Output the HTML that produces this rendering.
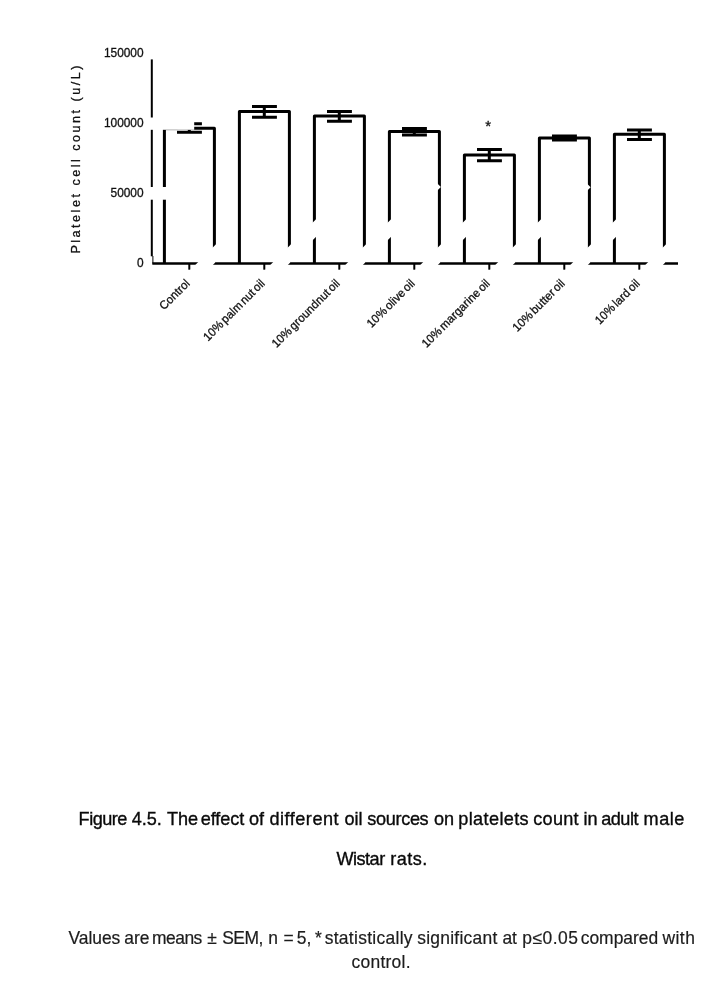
<!DOCTYPE html>
<html lang="en">
<head>
<meta charset="utf-8">
<title>Figure 4.5</title>
<style>
  html, body { margin: 0; padding: 0; background: #fff; }
  body { width: 720px; height: 997px; position: relative; overflow: hidden;
         font-family: "Liberation Sans", sans-serif; color: #111; }
  #chart { position: absolute; left: 0; top: 0; width: 720px; height: 380px; }
  #chart text { font-family: "Liberation Sans", sans-serif; fill: #111; stroke: #111; stroke-width: 0.3px; }
  .cap { position: absolute; left: 0; width: 720px; height: 20px; white-space: pre; line-height: 20px; }
  .cap span { position: absolute; top: 0; }
  .cap1 { font-size: 18.1px; color: #0a0a0a; -webkit-text-stroke: 0.35px #0a0a0a; }
  .cap2 { font-size: 17.45px; color: #1c1c1c; -webkit-text-stroke: 0.2px #1c1c1c; }
</style>
</head>
<body>

<svg id="chart" width="720" height="380" viewBox="0 0 720 380">
  <!-- axes -->
  <line x1="151.8" y1="52" x2="151.8" y2="256.3" stroke="#000" stroke-width="2"/>
  <line x1="152.9" y1="256" x2="152.9" y2="263.6" stroke="#000" stroke-width="1"/>
  <line x1="152.3" y1="263.6" x2="678" y2="263.6" stroke="#000" stroke-width="2.5"/>
  <!-- x ticks -->
  <g stroke="#000" stroke-width="2">
    <line x1="189.3" y1="263.6" x2="189.3" y2="269.7"/>
    <line x1="264.3" y1="263.6" x2="264.3" y2="269.7"/>
    <line x1="339.3" y1="263.6" x2="339.3" y2="269.7"/>
    <line x1="414.3" y1="263.6" x2="414.3" y2="269.7"/>
    <line x1="489.3" y1="263.6" x2="489.3" y2="269.7"/>
    <line x1="564.3" y1="263.6" x2="564.3" y2="269.7"/>
    <line x1="639.3" y1="263.6" x2="639.3" y2="269.7"/>
  </g>
  <!-- bars -->
  <g stroke="#000" stroke-width="3" fill="none" stroke-linejoin="round">
    <path d="M164.4 263.6 V128.3 H214.4 V263.6"/>
    <path d="M239.4 263.6 V111.6 H289.4 V263.6"/>
    <path d="M314.4 263.6 V116.0 H364.4 V263.6"/>
    <path d="M389.4 263.6 V131.6 H439.4 V263.6"/>
    <path d="M464.4 263.6 V154.9 H514.4 V263.6"/>
    <path d="M539.4 263.6 V138.0 H589.4 V263.6"/>
    <path d="M614.4 263.6 V134.3 H664.4 V263.6"/>
  </g>
  <!-- error bars -->
  <g stroke="#000" stroke-width="3" fill="none">
    <path d="M177.0 123.7 H201.9 M177.0 132.2 H201.9 M189.3 123.7 V132.2"/>
    <path d="M252.0 106.4 H276.9 M252.0 117.2 H276.9 M264.3 106.4 V117.2"/>
    <path d="M327.0 111.6 H351.9 M327.0 121.2 H351.9 M339.3 111.6 V121.2"/>
    <path d="M402.0 128.4 H426.9 M402.0 134.9 H426.9 M414.3 128.4 V134.9"/>
    <path d="M477.0 149.5 H501.9 M477.0 160.7 H501.9 M489.3 149.5 V160.7"/>
    <path d="M552.0 136.1 H576.9 M552.0 140.0 H576.9 M564.3 136.1 V140.0"/>
    <path d="M627.0 130.1 H651.9 M627.0 139.4 H651.9 M639.3 130.1 V139.4"/>
  </g>
  <!-- white ghost boxes that knock out parts of the lines (as in the source figure) -->
  <g fill="#fff" stroke="none">
    <rect x="100" y="44" width="60" height="15.4"/>
    <rect x="100" y="117.5" width="94.2" height="12.3"/>
    <rect x="100" y="187" width="68" height="12.7"/>
    <g transform="translate(189.5 270.8) rotate(-45)"><rect x="0" y="0" width="52" height="12.4"/></g>
    <g transform="translate(264.5 270.8) rotate(-45)"><rect x="0" y="0" width="118" height="12.4"/></g>
    <g transform="translate(339.5 270.8) rotate(-45)"><rect x="0" y="0" width="131" height="12.4"/></g>
    <g transform="translate(414.5 270.8) rotate(-45)"><rect x="0" y="0" width="90" height="12.4"/></g>
    <g transform="translate(489.5 270.8) rotate(-45)"><rect x="0" y="0" width="130.6" height="12.4"/></g>
    <g transform="translate(564.5 270.8) rotate(-45)"><rect x="0" y="0" width="96" height="12.4"/></g>
    <g transform="translate(639.5 270.8) rotate(-45)"><rect x="0" y="0" width="80" height="12.4"/></g>
  </g>
  <line x1="166" y1="130.2" x2="177.5" y2="130.2" stroke="#aaa" stroke-width="0.5"/>
  <!-- y tick labels -->
  <g font-size="11.9" text-anchor="end">
    <text x="143.6" y="56.55">150000</text>
    <text x="143.6" y="126.65">100000</text>
    <text x="143.6" y="197.05">50000</text>
    <text x="143.6" y="266.55">0</text>
  </g>
  <!-- y axis title -->
  <text transform="translate(79.7 158.3) rotate(-90)" font-size="12.6" letter-spacing="2.5" text-anchor="middle">Platelet cell count (u/L)</text>
  <!-- significance star -->
  <text x="488.2" y="130.6" font-size="15" text-anchor="middle">*</text>
  <!-- x labels -->
  <g font-size="11.9" text-anchor="end" word-spacing="-1.6" letter-spacing="0.12" style="stroke-width:0.45px">
    <text transform="translate(190.7 284) rotate(-45) scale(0.96 1)">Control</text>
    <text transform="translate(265.7 284) rotate(-45) scale(0.96 1)">10% palm nut oil</text>
    <text transform="translate(340.7 284) rotate(-45) scale(0.96 1)">10% groundnut oil</text>
    <text transform="translate(415.7 284) rotate(-45) scale(0.96 1)">10% olive oil</text>
    <text transform="translate(490.7 284) rotate(-45) scale(0.96 1)">10% margarine oil</text>
    <text transform="translate(565.7 284) rotate(-45) scale(0.96 1)">10% butter oil</text>
    <text transform="translate(640.7 284) rotate(-45) scale(0.96 1)">10% lard oil</text>
  </g>
</svg>

<div class="cap cap1" style="top: 809.2px;"><span style="left:78.6px;letter-spacing:-0.5px">Figure </span><span style="left:131.7px">4.5. </span><span style="left:167.0px">The </span><span style="left:200.7px;letter-spacing:-0.08px">effect </span><span style="left:249.0px">of </span><span style="left:269.5px;letter-spacing:0.5px">different </span><span style="left:344.5px">oil </span><span style="left:367.3px;letter-spacing:-0.33px">sources </span><span style="left:433.9px">on </span><span style="left:458.3px;letter-spacing:0.37px">platelets </span><span style="left:533.3px;letter-spacing:0.25px">count </span><span style="left:583.5px">in </span><span style="left:601.2px;letter-spacing:-0.5px">adult </span><span style="left:643.6px;letter-spacing:0.5px">male </span></div>
<div class="cap cap1" style="top: 849.3px;"><span style="left:336.4px;letter-spacing:-0.5px">Wistar </span><span style="left:390.3px;letter-spacing:0.47px">rats. </span></div>

<div class="cap cap2" style="top: 928.2px;"><span style="left:68.5px;letter-spacing:-0.04px">Values </span><span style="left:124.2px">are </span><span style="left:152.0px;letter-spacing:-0.5px">means </span><span style="left:207.2px">± </span><span style="left:222.2px;letter-spacing:-0.5px">SEM, </span><span style="left:268.3px">n </span><span style="left:283.6px">= </span><span style="left:296.8px">5, </span><span style="left:315.0px">* </span><span style="left:324.7px;letter-spacing:0.3px">statistically </span><span style="left:417.3px;letter-spacing:0.24px">significant </span><span style="left:502.4px">at </span><span style="left:522.3px;letter-spacing:0.48px">p≤0.05 </span><span style="left:580.7px">compared </span><span style="left:662.4px;letter-spacing:0.5px">with </span></div>
<div class="cap cap2" style="top: 951.6px;"><span style="left:351.5px;letter-spacing:0.27px">control. </span></div>

</body>
</html>
